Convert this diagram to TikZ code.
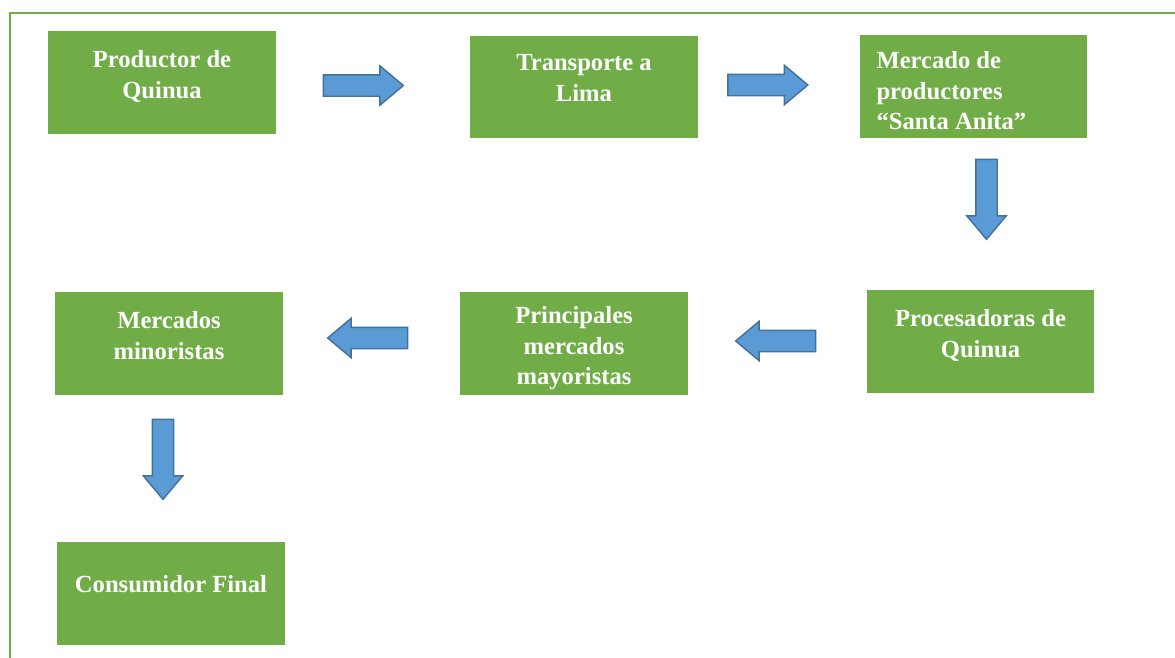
\documentclass[tikz,border=0pt]{standalone}
\usepackage{fontspec}
\setmainfont{Liberation Serif}
\usetikzlibrary{shapes.arrows}
\definecolor{boxgreen}{HTML}{70AD47}
\definecolor{arrowblue}{HTML}{5B9BD5}
\definecolor{arrowline}{HTML}{41719C}
\tikzset{
	stage/.style={fill=boxgreen, minimum width=4.56cm, minimum height=2.06cm, inner sep=0pt},
	stagetext/.style={text=white, font=\bfseries\fontsize{14pt}{17.6pt}\selectfont,
					align=center, inner sep=0pt},
	flow/.style={single arrow, fill=arrowblue, draw=arrowline, line width=0.8pt,
					minimum height=1.6cm, inner sep=0.2cm,
					single arrow head extend=0.18cm, single arrow tip angle=80}
}
\begin{document}
\begin{tikzpicture}[x=0.02cm, y=-0.02cm]
		\useasboundingbox (0,0) rectangle (1175,657);
		\draw[boxgreen, line width=1.2pt] (10,700) -- (10,13) -- (1200,13);

		\node[stage, label={[stagetext, anchor=north, yshift=-0.38cm]north:Productor de\\Quinua}] (P) at (162,82.5) {};
		\node[stage, label={[stagetext, anchor=north, yshift=-0.38cm]north:Transporte a\\Lima}] (T) at (584,87) {};
		\node[stage, label={[stagetext, align=left, anchor=north west, xshift=0.34cm, yshift=-0.32cm]north west:Mercado de\\productores\\“Santa Anita”}] (S) at (973.5,86.5) {};
		\node[stage, label={[stagetext, anchor=north, yshift=-0.38cm]north:Procesadoras de\\Quinua}] (Q) at (980.5,341.5) {};
		\node[stage, label={[stagetext, anchor=north, yshift=-0.28cm]north:Principales\\mercados\\mayoristas}] (M) at (574,343.5) {};
		\node[stage, label={[stagetext, anchor=north, yshift=-0.38cm]north:Mercados\\minoristas}] (N) at (169,343.5) {};
		\node[stage, label={[stagetext, anchor=north, yshift=-0.66cm]north:Consumidor Final}] (C) at (171,593.5) {};

		\node[flow] (a1) at (357,85.5) {};
		\node[flow] (a2) at (761.5,85) {};
		\node[flow, shape border rotate=270] (a3) at (986.5,193) {};
		\node[flow, shape border rotate=180] (a4) at (782,341) {};
		\node[flow, shape border rotate=180] (a5) at (374,338) {};
		\node[flow, shape border rotate=270] (a6) at (163,453) {};
	\end{tikzpicture}
\end{document}
